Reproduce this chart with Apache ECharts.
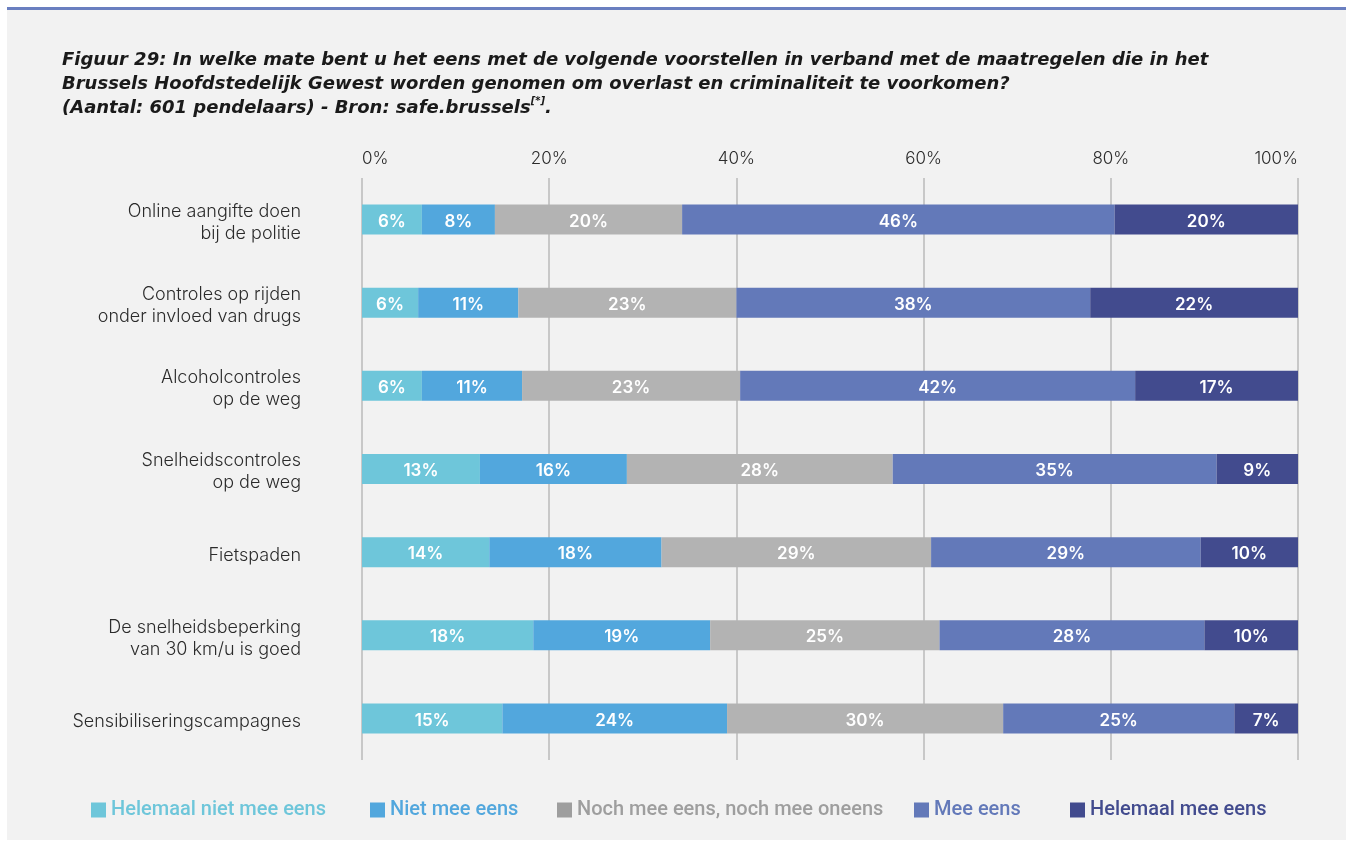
<!DOCTYPE html>
<html>
<head>
<meta charset="utf-8">
<script src="https://cdn.jsdelivr.net/npm/echarts@6/dist/echarts.min.js"></script>
<style>
  html, body { margin: 0; padding: 0; background: #ffffff; }
  #panel { position: absolute; left: 7px; top: 7px; right: 0; bottom: 1px; background: #f2f2f2; border-top: 3px solid #6a7fc0; }
  #chart { position: absolute; left: 0; top: 0; width: 1346px; height: 841px; }
</style>
</head>
<body>
<div id="panel"></div>
<div id="chart"></div>
<script>
// Categories (top to bottom)
const categories = [
  'Online aangifte doen\nbij de politie',
  'Controles op rijden\nonder invloed van drugs',
  'Alcoholcontroles\nop de weg',
  'Snelheidscontroles\nop de weg',
  'Fietspaden',
  'De snelheidsbeperking\nvan 30 km/u is goed',
  'Sensibiliseringscampagnes'
];
// Series names
const seriesNames = [
  'Helemaal niet mee eens',
  'Niet mee eens',
  'Noch mee eens, noch mee oneens',
  'Mee eens',
  'Helemaal mee eens'
];
// Values (% of respondents)
const helemaalNiet = [6.4, 6.0, 6.4, 12.6, 13.6, 18.3, 15.0];
const niet         = [7.8, 10.7, 10.7, 15.7, 18.4, 18.9, 24.0];
const neutraal     = [20.0, 23.3, 23.3, 28.4, 28.8, 24.5, 29.5];
const mee          = [46.2, 37.8, 42.2, 34.6, 28.8, 28.3, 24.7];
const helemaalMee  = [19.7, 22.2, 17.4, 8.7, 10.4, 10.0, 6.8];
// Axis ticks
const xTicks = { min: 0, max: 100, interval: 20 };

const seriesData = [helemaalNiet, niet, neutraal, mee, helemaalMee];
const barColors = ['#6ec6da', '#52a7dd', '#b3b3b3', '#6379b9', '#424b8e'];
const legendColors = ['#6ec6da', '#52a7dd', '#9e9e9e', '#6379b9', '#424b8e'];
const legendLeft = [91, 370, 557, 914, 1070];

const chart = echarts.init(document.getElementById('chart'), null, { renderer: 'canvas' });

const option = {
  backgroundColor: 'transparent',
  animation: false,
  title: {
    left: 62,
    top: 48,
    padding: 0,
    text: 'Figuur 29: In welke mate bent u het eens met de volgende voorstellen in verband met de maatregelen die in het\nBrussels Hoofdstedelijk Gewest worden genomen om overlast en criminaliteit te voorkomen?\n(Aantal: 601 pendelaars) - Bron: safe.brussels{sup|[*]}.',
    textStyle: {
      fontFamily: 'DejaVu Sans',
      fontSize: 18,
      fontStyle: 'italic',
      fontWeight: 'bold',
      color: '#1a1a1a',
      lineHeight: 24,
      rich: {
        sup: { fontFamily: 'DejaVu Sans', fontSize: 10, fontStyle: 'italic', fontWeight: 'bold', color: '#1a1a1a', verticalAlign: 'top', lineHeight: 24, padding: [0, 0, 8, 0] }
      }
    }
  },
  legend: legendLeft.map((lx, i) => ({
    left: lx,
    top: 800,
    padding: 0,
    icon: 'rect',
    itemWidth: 15,
    itemHeight: 15,
    selectedMode: false,
    data: [{ name: seriesNames[i], itemStyle: { color: legendColors[i] } }],
    textStyle: { color: legendColors[i], fontSize: 20, fontWeight: 500, fontFamily: 'Roboto' }
  })),
  grid: { left: 362, right: 48, top: 178, bottom: 81, containLabel: false },
  xAxis: {
    type: 'value',
    position: 'top',
    min: xTicks.min,
    max: xTicks.max,
    interval: xTicks.interval,
    axisLine: { show: false },
    axisTick: { show: false },
    splitLine: { show: true, lineStyle: { color: '#c8c8c8', width: 2 } },
    axisLabel: {
      formatter: '{value}%',
      margin: 11,
      fontSize: 17,
      color: '#2b2b2b',
      fontFamily: 'Inter',
      fontWeight: 300,
      alignMinLabel: 'left',
      alignMaxLabel: 'right'
    }
  },
  yAxis: {
    type: 'category',
    data: categories,
    inverse: true,
    axisLine: { show: false },
    axisTick: { show: false },
    splitLine: { show: false },
    axisLabel: {
      margin: 61,
      formatter: v => '{s| }\n' + v.split('\n').map(l => '{a|' + l + '}').join('\n'),
      rich: {
        s: { fontSize: 1, lineHeight: 6 },
        a: { fontSize: 18, lineHeight: 22, color: '#2b2b2b', fontFamily: 'Inter', fontWeight: 300 }
      }
    }
  },
  series: seriesNames.map((name, i) => ({
    name: name,
    type: 'bar',
    stack: 'total',
    barWidth: 30,
    itemStyle: { color: barColors[i] },
    data: seriesData[i],
    label: {
      show: true,
      position: 'inside',
      offset: [0, 2],
      formatter: p => Math.round(p.value) + '%',
      color: '#ffffff',
      fontSize: 17,
      fontWeight: 600,
      fontFamily: 'Inter'
    }
  }))
};

chart.setOption(option);
</script>
</body>
</html>
